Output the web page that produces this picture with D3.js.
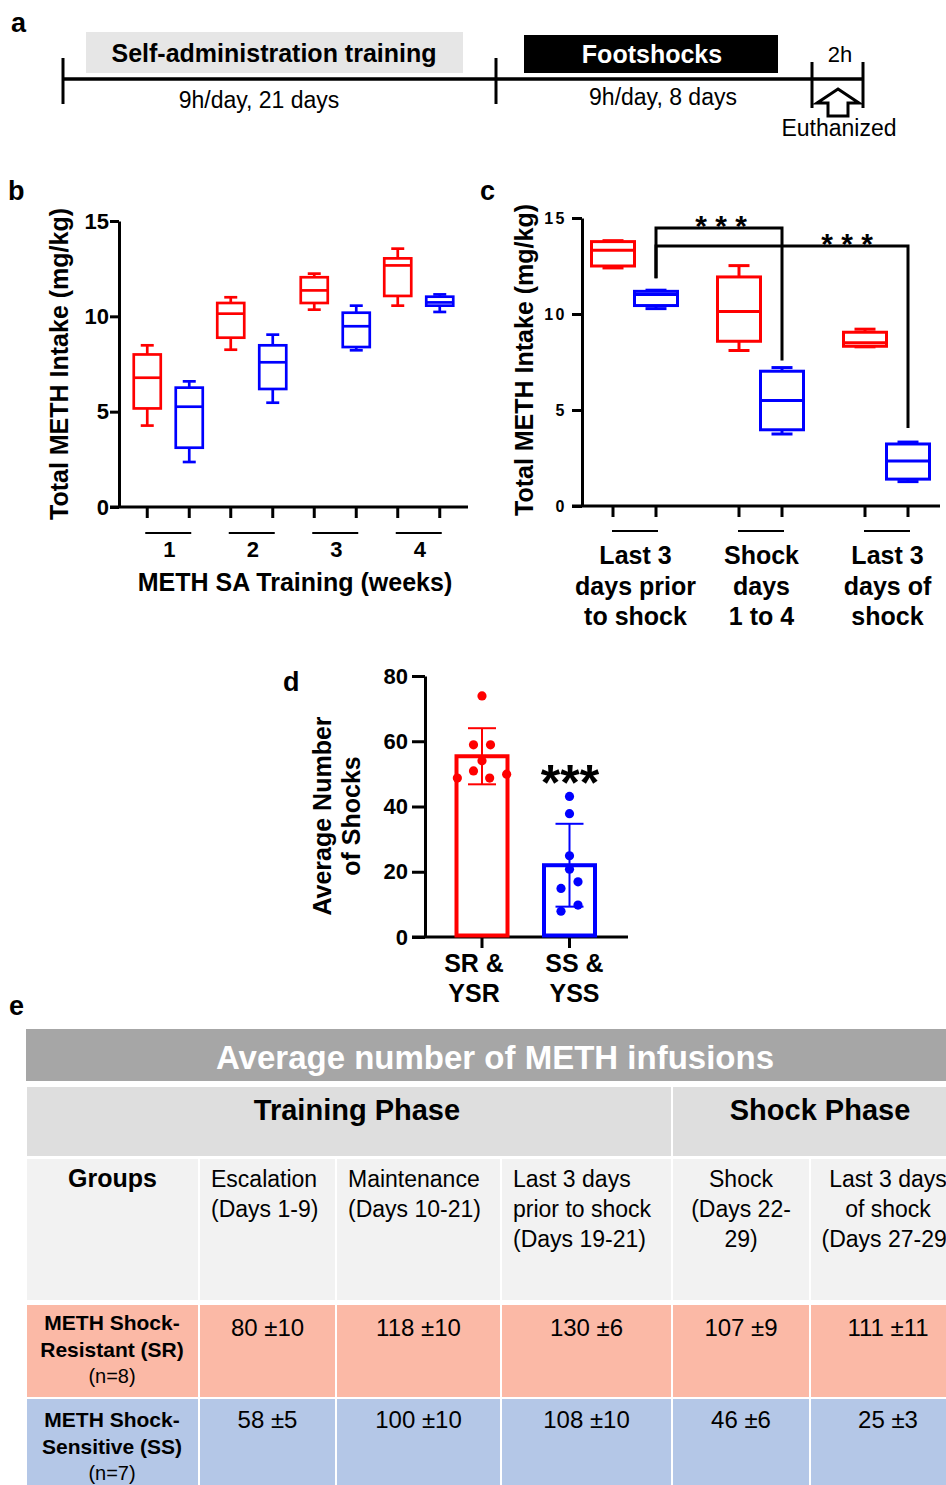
<!DOCTYPE html>
<html>
<head>
<meta charset="utf-8">
<script src="https://cdn.jsdelivr.net/npm/d3@7"></script>
<style>
  body { margin: 0; background: #fff; }
  svg { display: block; font-family: "Liberation Sans", Arial, sans-serif; }
</style>
</head>
<body>
<svg id="fig" width="946" height="1485"></svg>
<script>
// ---- data ----
const timelineMarks = ["start", "training end", "shock end", "euthanasia"];

const weeks = ["1", "2", "3", "4"];
const groups = ["SR", "SS"];
// box stats: [min, q1, median, q3, max]
const trainSR = [[4.27, 5.17, 6.78, 8.0, 8.48], [8.25, 8.88, 10.14, 10.7, 11.0], [10.35, 10.7, 11.36, 12.05, 12.24], [10.56, 11.07, 12.67, 13.04, 13.55]];
const trainSS = [[2.36, 3.11, 5.26, 6.26, 6.59], [5.47, 6.19, 7.59, 8.48, 9.04], [8.22, 8.39, 9.48, 10.19, 10.56], [10.23, 10.56, 10.73, 11.03, 11.15]];
const intakeTicks = [0, 5, 10, 15];

const phaseLines = [["Last 3", "days prior", "to shock"], ["Shock", "days", "1 to 4"], ["Last 3", "days of", "shock"]];
const phaseSR = [[12.4, 12.5, 13.32, 13.77, 13.82], [8.1, 8.58, 10.13, 11.93, 12.52], [8.29, 8.32, 8.5, 9.05, 9.21]];
const phaseSS = [[10.28, 10.44, 11.01, 11.18, 11.24], [3.75, 3.97, 5.5, 7.02, 7.21], [1.27, 1.4, 2.34, 3.23, 3.33]];
const sigPairs = [[0, 1], [0, 2]];
const sigLevels = [14.48, 13.54];

const shockCatLines = [["SR &", "YSR"], ["SS &", "YSS"]];
const shockMean = [55.4, 22.0];
const shockSD = [8.6, 12.7];
const shockSR = [73.9, 58.9, 58.9, 54.0, 50.9, 48.7, 48.7, 49.9];
const shockSS = [43.1, 37.8, 24.9, 20.8, 14.9, 16.9, 9.8, 7.9];
const shockTicks = [0, 20, 40, 60, 80];

const tableTitle = "Average number of METH infusions";
const phaseHeaders = ["Training Phase", "Shock Phase"];
const colHeaders = [["Groups"], ["Escalation", "(Days 1-9)"], ["Maintenance", "(Days 10-21)"],
  ["Last 3 days", "prior to shock", "(Days 19-21)"], ["Shock", "(Days 22-", "29)"], ["Last 3 days", "of shock", "(Days 27-29)"]];
const groupLabels = [["METH Shock-", "Resistant (SR)", "(n=8)"], ["METH Shock-", "Sensitive (SS)", "(n=7)"]];
const infusionsSR = ["80 ±10", "118 ±10", "130 ±6", "107 ±9", "111 ±11"];
const infusionsSS = ["58 ±5", "100 ±10", "108 ±10", "46 ±6", "25 ±3"];

// ---- drawing ----
const RED = "#ff0000", BLUE = "#0000ff";
const svg = d3.select("#fig");

function panelLabel(t, x, y) {
  svg.append("text").attr("x", x).attr("y", y)
    .attr("font-size", 27).attr("font-weight", "bold").text(t);
}

function styleAxis(g, fontSize) {
  g.select(".domain").attr("stroke-width", 3);
  g.selectAll(".tick line").attr("stroke-width", 3);
  g.selectAll(".tick text").attr("font-size", fontSize).attr("font-weight", "bold")
    .attr("font-family", "Liberation Sans, Arial, sans-serif").attr("fill", "#000");
}

function drawBox(g, s, cx, y, boxW, capW, col, sw) {
  const b = g.append("g").attr("stroke", col).attr("stroke-width", sw).attr("fill", "none");
  b.append("line").attr("x1", cx).attr("x2", cx).attr("y1", y(s[4])).attr("y2", y(s[3]));
  b.append("line").attr("x1", cx).attr("x2", cx).attr("y1", y(s[1])).attr("y2", y(s[0]));
  b.append("line").attr("x1", cx - capW / 2).attr("x2", cx + capW / 2).attr("y1", y(s[4])).attr("y2", y(s[4]));
  b.append("line").attr("x1", cx - capW / 2).attr("x2", cx + capW / 2).attr("y1", y(s[0])).attr("y2", y(s[0]));
  b.append("rect").attr("x", cx - boxW / 2).attr("y", y(s[3])).attr("width", boxW).attr("height", y(s[1]) - y(s[3]));
  b.append("line").attr("x1", cx - boxW / 2).attr("x2", cx + boxW / 2).attr("y1", y(s[2])).attr("y2", y(s[2]));
}

// ===== panel a: timeline =====
panelLabel("a", 11, 32);
const tl = d3.scaleOrdinal().domain(timelineMarks).range([63, 496, 812, 863]);
const a = svg.append("g");
a.append("rect").attr("x", 86).attr("y", 32).attr("width", 377).attr("height", 41).attr("fill", "#e6e6e6");
a.append("rect").attr("x", 524).attr("y", 35).attr("width", 254).attr("height", 38).attr("fill", "#000");
a.append("line").attr("x1", tl("start")).attr("x2", tl("euthanasia")).attr("y1", 79).attr("y2", 79)
  .attr("stroke", "#000").attr("stroke-width", 3.5);
a.selectAll(".mark").data(timelineMarks).join("line")
  .attr("x1", d => tl(d)).attr("x2", d => tl(d))
  .attr("y1", (d, i) => i < 2 ? 58 : 62).attr("y2", (d, i) => i < 2 ? 104 : 108)
  .attr("stroke", "#000").attr("stroke-width", 3);
a.append("text").attr("x", 274).attr("y", 62).attr("text-anchor", "middle")
  .attr("font-size", 25).attr("font-weight", "bold").text("Self-administration training");
a.append("text").attr("x", 652).attr("y", 63).attr("text-anchor", "middle").attr("fill", "#fff")
  .attr("font-size", 25).attr("font-weight", "bold").text("Footshocks");
a.append("text").attr("x", 259).attr("y", 108).attr("text-anchor", "middle").attr("font-size", 23).text("9h/day, 21 days");
a.append("text").attr("x", 663).attr("y", 105).attr("text-anchor", "middle").attr("font-size", 23).text("9h/day, 8 days");
a.append("text").attr("x", 840).attr("y", 62).attr("text-anchor", "middle").attr("font-size", 22).text("2h");
a.append("path").attr("d", "M838,89 L859,103 L848,103 L848,116 L828,116 L828,103 L817,103 Z")
  .attr("fill", "#fff").attr("stroke", "#000").attr("stroke-width", 3);
a.append("text").attr("x", 839).attr("y", 136).attr("text-anchor", "middle").attr("font-size", 23).text("Euthanized");

// ===== panel b: weekly intake =====
panelLabel("b", 8, 200);
const bY = d3.scaleLinear().domain([0, 15]).range([507, 221]);
const bX = d3.scaleBand().domain(weeks).range([126.5, 460.5]);
const bG = d3.scalePoint().domain(groups).range([-21, 21]);
const bPos = (w, gr) => bX(w) + bX.bandwidth() / 2 + bG(gr);
const b = svg.append("g");

const bAxis = b.append("g").attr("transform", "translate(119,0)")
  .call(d3.axisLeft(bY).tickValues(intakeTicks).tickSize(9).tickSizeOuter(0).tickPadding(1));
styleAxis(bAxis, 22);
b.append("line").attr("x1", 110).attr("x2", 468).attr("y1", bY(0)).attr("y2", bY(0)).attr("stroke", "#000").attr("stroke-width", 3);
weeks.forEach(w => groups.forEach(gr => {
  b.append("line").attr("x1", bPos(w, gr)).attr("x2", bPos(w, gr)).attr("y1", bY(0)).attr("y2", bY(0) + 11)
    .attr("stroke", "#000").attr("stroke-width", 3);
}));
weeks.forEach(w => {
  b.append("line").attr("x1", bPos(w, "SR") - 2).attr("x2", bPos(w, "SS") + 2).attr("y1", 533).attr("y2", 533)
    .attr("stroke", "#000").attr("stroke-width", 2);
  b.append("text").attr("x", bX(w) + bX.bandwidth() / 2 + 1).attr("y", 557).attr("text-anchor", "middle")
    .attr("font-size", 22).attr("font-weight", "bold").text(w);
});
weeks.forEach((w, i) => {
  drawBox(b, trainSR[i], bPos(w, "SR"), bY, 27, 13, RED, 2.7);
  drawBox(b, trainSS[i], bPos(w, "SS"), bY, 27, 13, BLUE, 2.7);
});
b.append("text").attr("x", 295).attr("y", 591).attr("text-anchor", "middle")
  .attr("font-size", 25).attr("font-weight", "bold").text("METH SA Training (weeks)");
b.append("text").attr("transform", "translate(68,364) rotate(-90)").attr("text-anchor", "middle")
  .attr("font-size", 25).attr("font-weight", "bold").text("Total METH Intake (mg/kg)");

// ===== panel c: phases =====
panelLabel("c", 480, 200);
const phases = phaseLines.map(l => l.join(" "));
const cY = d3.scaleLinear().domain([0, 15]).range([506, 218]);
const cX = d3.scaleBand().domain(phases).range([571.5, 949.5]);
const cG = d3.scalePoint().domain(groups).range([-21.5, 21.5]);
const cPos = (p, gr) => cX(p) + cX.bandwidth() / 2 + cG(gr);
const c = svg.append("g");

const cAxis = c.append("g").attr("transform", "translate(582,0)")
  .call(d3.axisLeft(cY).tickValues(intakeTicks).tickSize(10).tickSizeOuter(0).tickPadding(5));
styleAxis(cAxis, 16);
cAxis.selectAll(".tick text").attr("letter-spacing", 2.5);
c.append("line").attr("x1", 572).attr("x2", 940).attr("y1", cY(0)).attr("y2", cY(0)).attr("stroke", "#000").attr("stroke-width", 3);
phases.forEach(p => groups.forEach(gr => {
  c.append("line").attr("x1", cPos(p, gr)).attr("x2", cPos(p, gr)).attr("y1", cY(0)).attr("y2", cY(0) + 11)
    .attr("stroke", "#000").attr("stroke-width", 3);
}));
phases.forEach((p, i) => {
  c.append("line").attr("x1", cPos(p, "SR") - 1).attr("x2", cPos(p, "SS") + 2).attr("y1", 531).attr("y2", 531)
    .attr("stroke", "#000").attr("stroke-width", 2);
  const t = c.append("text").attr("text-anchor", "middle").attr("font-size", 25).attr("font-weight", "bold");
  phaseLines[i].forEach((ln, j) => {
    t.append("tspan").attr("x", cX(p) + cX.bandwidth() / 2 + 1).attr("y", 564 + j * 30.5).text(ln);
  });
});
phases.forEach((p, i) => {
  drawBox(c, phaseSR[i], cPos(p, "SR"), cY, 43, 21, RED, 3);
  drawBox(c, phaseSS[i], cPos(p, "SS"), cY, 43, 21, BLUE, 3);
});
// significance brackets
sigPairs.forEach(([f, t], i) => {
  const x1 = cPos(phases[f], "SS"), x2 = cPos(phases[t], "SS");
  const yl = cY(sigLevels[i]);
  const yEndL = cY(phaseSS[f][4]) - 12;
  const yEndR = cY(phaseSS[t][4]) - (i === 0 ? 7 : 14);
  c.append("path").attr("d", `M${x1},${yEndL} L${x1},${yl} L${x2},${yl} L${x2},${yEndR}`)
    .attr("fill", "none").attr("stroke", "#000").attr("stroke-width", 3);
  const xs = i === 0 ? (x1 + x2) / 2 : (cPos(phases[sigPairs[i - 1][1]], "SS") + x2) / 2;
  c.append("text").attr("x", xs + 2).attr("y", yl + 8).attr("text-anchor", "middle")
    .attr("font-size", 30).attr("font-weight", "bold").text("* * *");
});
c.append("text").attr("transform", "translate(533,360) rotate(-90)").attr("text-anchor", "middle")
  .attr("font-size", 25).attr("font-weight", "bold").text("Total METH Intake (mg/kg)");

// ===== panel d: shocks =====
panelLabel("d", 283, 691);
const shockCats = shockCatLines.map(l => l.join(" "));
const dY = d3.scaleLinear().domain([0, 80]).range([937, 676]);
const dX = d3.scaleBand().domain(shockCats).range([438.25, 613.25]);
const dC = cat => dX(cat) + dX.bandwidth() / 2;
const labelShift = [-8, 5];
const d = svg.append("g");
const dAxis = d.append("g").attr("transform", "translate(425,0)")
  .call(d3.axisLeft(dY).tickValues(shockTicks).tickSize(13).tickSizeOuter(0).tickPadding(4));
styleAxis(dAxis, 22);
d.append("line").attr("x1", 412).attr("x2", 628).attr("y1", dY(0)).attr("y2", dY(0)).attr("stroke", "#000").attr("stroke-width", 3);
shockCats.forEach((cat, i) => {
  const cx = dC(cat), col = i === 0 ? RED : BLUE;
  d.append("line").attr("x1", cx).attr("x2", cx).attr("y1", dY(0)).attr("y2", dY(0) + 11)
    .attr("stroke", "#000").attr("stroke-width", 3);
  d.append("rect").attr("x", cx - 25.5).attr("y", dY(shockMean[i])).attr("width", 51)
    .attr("height", dY(0) - dY(shockMean[i]) - 1.5).attr("fill", "#fff").attr("stroke", col).attr("stroke-width", 4);
  const lo = shockMean[i] - shockSD[i], hi = shockMean[i] + shockSD[i];
  const eb = d.append("g").attr("stroke", col).attr("stroke-width", 2);
  eb.append("line").attr("x1", cx).attr("x2", cx).attr("y1", dY(hi)).attr("y2", dY(lo));
  eb.append("line").attr("x1", cx - 14).attr("x2", cx + 14).attr("y1", dY(hi)).attr("y2", dY(hi));
  eb.append("line").attr("x1", cx - 14).attr("x2", cx + 14).attr("y1", dY(lo)).attr("y2", dY(lo));
  const t = d.append("text").attr("text-anchor", "middle").attr("font-size", 25).attr("font-weight", "bold");
  shockCatLines[i].forEach((ln, j) => t.append("tspan").attr("x", cx + labelShift[i]).attr("y", 972 + j * 30).text(ln));
});
// scatter points, nudged sideways where they overlap
const jitterSR = [0, -1, 1, 0, -1, -2.9, 0.9, 2.9];
const jitterSS = [0, 0, 0, 0, -1, 1, 1, -1];
[[shockSR, jitterSR, 0], [shockSS, jitterSS, 1]].forEach(([vals, jit, i]) => {
  d.selectAll(null).data(vals).join("circle")
    .attr("cx", (v, k) => dC(shockCats[i]) + jit[k] * 8.5).attr("cy", v => dY(v))
    .attr("r", 4.6).attr("fill", i === 0 ? RED : BLUE);
});
d.append("text").attr("x", 570).attr("y", 800).attr("text-anchor", "middle")
  .attr("font-size", 50).attr("font-weight", "bold").text("***");
const dl = d.append("text").attr("transform", "translate(0,816) rotate(-90)").attr("text-anchor", "middle")
  .attr("font-size", 25).attr("font-weight", "bold");
dl.append("tspan").attr("x", 0).attr("y", 331).text("Average Number");
dl.append("tspan").attr("x", 0).attr("y", 360).text("of Shocks");

// ===== panel e: table =====
panelLabel("e", 9, 1015);
const colEdges = [26, 199, 336, 501, 672, 810, 966];
const e = svg.append("g");
const cellRect = (x1, x2, y1, y2, fill) => e.append("rect").attr("x", x1 + 1).attr("y", y1)
  .attr("width", x2 - x1 - 2).attr("height", y2 - y1).attr("fill", fill);
cellRect(25, 980, 1029, 1081, "#a6a6a6");
e.append("text").attr("x", 495).attr("y", 1069).attr("text-anchor", "middle").attr("fill", "#fff")
  .attr("font-size", 33).attr("font-weight", "bold").text(tableTitle);
cellRect(colEdges[0], colEdges[4], 1087, 1156, "#dedede");
cellRect(colEdges[4], 980, 1087, 1156, "#dedede");
e.append("text").attr("x", 357).attr("y", 1120).attr("text-anchor", "middle")
  .attr("font-size", 29).attr("font-weight", "bold").text(phaseHeaders[0]);
e.append("text").attr("x", 820).attr("y", 1120).attr("text-anchor", "middle")
  .attr("font-size", 29).attr("font-weight", "bold").text(phaseHeaders[1]);

const rows = [
  { y1: 1159, y2: 1300, fill: "#f2f2f2" },
  { y1: 1305, y2: 1397, fill: "#fbb9a6" },
  { y1: 1399, y2: 1490, fill: "#b4c7e7" }
];
rows.forEach(r => colHeaders.forEach((h, k) => cellRect(colEdges[k], k === 5 ? 980 : colEdges[k + 1], r.y1, r.y2, r.fill)));

colHeaders.forEach((h, k) => {
  const left = k >= 1 && k <= 3;
  const x = left ? colEdges[k] + 12 : (colEdges[k] + colEdges[k + 1]) / 2;
  const t = e.append("text").attr("text-anchor", left ? "start" : "middle")
    .attr("font-size", k === 0 ? 25 : 23).attr("font-weight", k === 0 ? "bold" : "normal");
  h.forEach((ln, j) => t.append("tspan").attr("x", x).attr("y", 1187 + j * 30).text(ln));
});

[[infusionsSR, 1336, 1330], [infusionsSS, 1428, 1427]].forEach(([vals, vy, gy], i) => {
  const t = e.append("text").attr("text-anchor", "middle");
  groupLabels[i].forEach((ln, j) => t.append("tspan").attr("x", 112).attr("y", gy + j * 26.5)
    .attr("font-size", j < 2 ? 21 : 20).attr("font-weight", j < 2 ? "bold" : "normal").text(ln));
  vals.forEach((v, k) => {
    e.append("text").attr("x", (colEdges[k + 1] + colEdges[k + 2]) / 2).attr("y", vy)
      .attr("text-anchor", "middle").attr("font-size", 24).text(v);
  });
});
</script>
</body>
</html>
